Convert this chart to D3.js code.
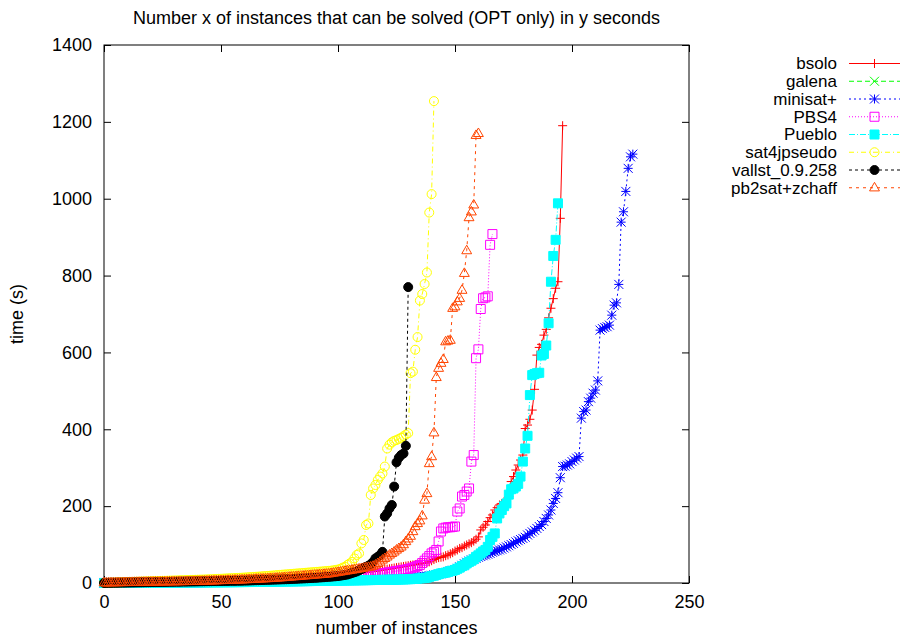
<!DOCTYPE html>
<html lang="en">
<head>
<meta charset="UTF-8">
<title>Number x of instances that can be solved (OPT only) in y seconds</title>
<script src="https://d3js.org/d3.v7.min.js"></script>
<style>
html, body {
  margin: 0;
  padding: 0;
  background-color: white;
}
body {
  font-family: 'Liberation Sans', Arial, sans-serif;
}
#chart svg {
  display: block;
}
.axis text, .legend text, .title, .axis-label {
  font-family: 'Liberation Sans', Arial, sans-serif;
  font-size: 18px;
  fill: #000;
}
.legend text {
  font-size: 17px;
}
</style>
</head>
<body>

<div id="chart"></div>

<script>

// --------------------------------------
// Data: solve time (s) of the i-th instance, x = i
// --------------------------------------

const seriesNames = ["bsolo", "galena", "minisat+", "PBS4", "Pueblo", "sat4jpseudo", "vallst_0.9.258", "pb2sat+zchaff"];

const bsoloTimes = [
  0.3,0.4,0.5,0.6,0.7,0.8,0.9,1.0,1.1,1.2,1.3,1.4,1.5,1.6,1.7,1.8,1.9,2.0,2.1,2.2,
  2.3,2.4,2.5,2.6,2.7,2.8,2.9,3.0,3.1,3.2,3.3,3.4,3.5,3.6,3.7,3.8,3.9,4.0,4.1,4.2,
  4.3,4.4,4.5,4.6,4.7,4.8,4.9,5.0,5.1,5.2,5.3,5.4,5.5,5.6,5.7,5.8,5.9,6.0,6.1,6.2,
  6.4,6.6,6.8,7.0,7.2,7.4,7.6,7.8,8.0,8.2,8.4,8.6,8.8,9.0,9.2,9.4,9.6,9.8,10,10.3,
  10.6,10.9,11.2,11.5,11.8,12.1,12.4,12.7,13,13.3,13.6,14,14.4,14.8,15.2,15.6,16,16.5,17,17.5,
  18,18.5,19,19.5,20,21,22,23,24,25,26,27,28,29,29.5,30,31,32,33,34,
  35,36,37,38,39,40,41,42,43,44,45,46,47,48,49,50,51,52,53,55,
  58,61,64,66,67,68,71,73,76,79,83,86,90,92,96,99,102,105,109,114,
  120,138,145,151,160,170,177,190,196,203,207,212,216,225,264,277,294,307,320,333,
  402,411,426,450,504,593,613,621,645,660,690,715,740,767,784,949,1190
];

const galenaTimes = [0.3, 0.5, 0.8, 1.1, 1.5, 2.0];

const minisatTimes = [
  0.1,0.1,0.2,0.2,0.3,0.3,0.4,0.4,0.5,0.5,0.6,0.6,0.7,0.7,0.8,0.8,0.9,0.9,1.0,1.0,
  1.1,1.1,1.2,1.2,1.3,1.3,1.4,1.4,1.5,1.5,1.6,1.6,1.7,1.7,1.8,1.8,1.9,1.9,2.0,2.0,
  2.1,2.1,2.2,2.2,2.3,2.3,2.4,2.4,2.5,2.5,2.6,2.6,2.7,2.7,2.8,2.8,2.9,2.9,3.0,3.0,
  3.1,3.2,3.3,3.4,3.5,3.6,3.7,3.8,3.9,4.0,4.1,4.2,4.3,4.4,4.5,4.6,4.7,4.8,4.9,5.0,
  5.1,5.2,5.3,5.4,5.5,5.6,5.7,5.8,5.9,6.0,6.1,6.2,6.3,6.4,6.5,6.6,6.7,6.8,6.9,7.0,
  7.1,7.2,7.3,7.4,7.5,7.6,7.7,7.8,7.9,8.0,8.2,8.4,8.6,8.8,9.0,9.2,9.4,9.6,9.8,10,
  10.3,10.6,10.9,11.2,11.5,11.8,12.1,12.4,12.7,13,13.5,14,14.5,15,15.5,16,16.5,17,18,19,
  20,21,22,23,24,26,27,29,31,33,35,38,42,46,50,54,57,60,62,64,
  67,69,71,73,75,77,80,82,84,86,88,91,94,97,100,103,107,110,113,116,
  119,125,129,133,137,142,147,152,160,168,177,190,207,220,235,274,303,304,307,310,316,320,325,329,
  429,446,450,472,481,494,502,526,658,662,665,667,671,697,723,729,777,939,966,1019,1079,1109,1116
];

const pbs4Times = [
  0.1,0.1,0.2,0.2,0.3,0.3,0.4,0.4,0.5,0.5,0.6,0.6,0.7,0.7,0.8,0.8,0.9,0.9,1.0,1.0,
  1.1,1.1,1.2,1.2,1.3,1.3,1.4,1.4,1.5,1.5,1.6,1.6,1.7,1.7,1.8,1.8,1.9,1.9,2.0,2.0,
  2.1,2.2,2.3,2.4,2.5,2.6,2.7,2.8,2.9,3.0,3.1,3.2,3.3,3.4,3.5,3.6,3.7,3.8,3.9,4.0,
  4.1,4.2,4.3,4.4,4.5,4.6,4.7,4.8,4.9,5.0,5.2,5.4,5.6,5.8,6.0,6.2,6.4,6.6,6.8,7.0,
  7.2,7.4,7.6,7.8,8.0,8.2,8.4,8.6,8.8,9.0,9.3,9.6,9.9,10.2,10.5,10.8,11.1,11.4,11.7,12,
  12.4,12.8,13.2,13.6,14,14.5,15,15.5,16,16.5,17,17.5,18,19,20,21,22,23,24,25,
  26,27,28,29,30,31,32,33,34,35,36,38,40,42,44,47,
  52,58,64,70,77,81,86,108,134,142,144,145,145,146,147,186,194,225,229,238,
  246,316,333,585,608,713,741,743,746,880,908
];

const puebloTimes = [
  0.1,0.1,0.1,0.2,0.2,0.2,0.3,0.3,0.3,0.4,0.4,0.4,0.5,0.5,0.5,0.6,0.6,0.6,0.7,0.7,
  0.7,0.8,0.8,0.8,0.9,0.9,0.9,1.0,1.0,1.0,1.1,1.1,1.1,1.2,1.2,1.2,1.3,1.3,1.3,1.4,
  1.4,1.5,1.5,1.6,1.6,1.7,1.7,1.8,1.8,1.9,1.9,2.0,2.0,2.1,2.1,2.2,2.2,2.3,2.3,2.4,
  2.4,2.5,2.5,2.6,2.6,2.7,2.8,2.9,3.0,3.1,3.2,3.3,3.4,3.5,3.6,3.7,3.8,3.9,4.0,4.1,
  4.2,4.3,4.4,4.5,4.6,4.7,4.8,4.9,5.0,5.1,5.2,5.3,5.4,5.5,5.6,5.7,5.8,5.9,6.0,6.1,
  6.2,6.3,6.4,6.5,6.6,6.7,6.8,6.9,7.0,7.1,7.2,7.3,7.4,7.5,7.6,7.7,7.8,7.9,8.0,8.1,
  8.2,8.3,8.4,8.5,8.6,8.8,9.0,9.2,9.4,9.6,9.8,10,10.5,11,11.5,12,12.5,13,14,16,
  18,19,21,23,25,26,27,29,31,32,34,37,40,44,46,51,55,58,62,68,
  72,77,82,86,94,112,120,129,168,181,190,200,207,230,244,246,251,258,277,316,
  350,383,489,541,544,546,547,592,596,618,676,784,851,893,988
];

const sat4jTimes = [
  0.5,0.7,0.9,1.1,1.3,1.5,1.7,1.9,2.1,2.3,2.5,2.7,2.9,3.1,3.3,3.5,3.7,3.9,4.1,4.3,
  4.5,4.7,4.9,5.1,5.3,5.5,5.7,5.9,6.1,6.3,6.5,6.7,6.9,7.1,7.3,7.5,7.7,7.9,8.1,8.3,
  8.5,8.7,8.9,9.1,9.3,9.6,9.9,10.2,10.5,10.8,11.1,11.4,11.7,12,12.3,12.6,12.9,13.2,13.5,13.8,
  14.2,14.6,15,15.4,15.8,16.2,16.6,17,17.5,18,18.5,19,19.5,20,20.5,21,21.5,22,22.5,23,
  23.5,24,24.5,25,25.5,26,26.5,27,27.5,28,28.5,29,29.5,30,30.5,31,31.5,32,33,34,
  35,37,40,42,47,51,55,64,73,77,103,112,151,155,229,246,255,268,277,285,
  303,350,360,366,370,372,375,378,382,386,390,546,550,607,640,735,752,778,808,964,
  1012,1254
];

const vallstTimes = [
  0.2,0.3,0.4,0.5,0.6,0.7,0.8,0.9,1.0,1.1,1.2,1.3,1.4,1.5,1.6,1.7,1.8,1.9,2.0,2.1,
  2.2,2.3,2.4,2.5,2.6,2.7,2.8,2.9,3.0,3.1,3.2,3.3,3.4,3.5,3.6,3.7,3.8,3.9,4.0,4.1,
  4.2,4.3,4.4,4.5,4.6,4.7,4.8,4.9,5.0,5.1,5.2,5.3,5.4,5.5,5.6,5.7,5.8,5.9,6.0,6.1,
  6.2,6.4,6.6,6.8,7.0,7.2,7.4,7.6,7.8,8.0,8.2,8.4,8.6,8.8,9.0,9.2,9.4,9.6,9.8,10,
  10.3,10.6,10.9,11.2,11.5,11.8,12.1,12.4,12.7,13,13.4,13.8,14.2,14.6,15,15.5,16,16.5,17,17.5,
  18,19,20,21,22,24,26,28,30,33,36,39,42,
  45,49,55,64,68,73,81,173,181,194,203,251,314,326,333,337,357,770
];

const pb2satTimes = [
  0.5,0.6,0.8,0.9,1.0,1.1,1.2,1.3,1.4,1.5,1.6,1.7,1.8,1.9,2.0,2.1,2.2,2.3,2.4,2.5,
  2.6,2.7,2.8,2.9,3.0,3.1,3.2,3.3,3.4,3.5,3.6,3.7,3.8,3.9,4.0,4.1,4.2,4.3,4.4,4.5,
  4.6,4.8,5.0,5.2,5.4,5.6,5.8,6.0,6.2,6.4,6.6,6.8,7.0,7.2,7.4,7.6,7.8,8.0,8.2,8.4,
  8.7,9.0,9.3,9.6,9.9,10.2,10.5,10.8,11.1,11.4,11.7,12.0,12.4,12.8,13.2,13.6,14,14.5,15,15.5,
  16,16.5,17,17.5,18,18.5,19,19.5,20,20.5,21,21.5,22,22.5,23,23.5,24,25,26,27,
  28,29,30,31,32,33,34,35,36,37,
  38,39,40,41,42,44,47,51,55,60,64,68,73,77,81,86,90,94,100,108,
  115,122,134,147,155,162,175,216,233,311,329,391,535,559,572,582,628,630,632,715,
  719,732,741,762,806,865,951,966,984,1165,1170
];

const xTicks = [0, 50, 100, 150, 200, 250];
const yTicks = [0, 200, 400, 600, 800, 1000, 1200, 1400];

const seriesTimes = [bsoloTimes, galenaTimes, minisatTimes, pbs4Times, puebloTimes, sat4jTimes, vallstTimes, pb2satTimes];

// --------------------------------------
// Styles (gnuplot look)
// --------------------------------------

const colors  = ["#ff0000", "#00ff00", "#0000ff", "#ff00ff", "#00ffff", "#ffff00", "#000000", "#ff4500"];
const dashes  = ["none", "5,3", "2,3", "1,2", "6,2,1,2", "5,3,1,3", "3,3", "3,4"];
const symbols = ["plus", "cross", "star", "square", "fsquare", "circle", "fcircle", "triangle"];

// --------------------------------------
// Size and scales
// --------------------------------------

const totalWidth = 902;
const totalHeight = 640;
const plot = {left: 104, right: 689, top: 45, bottom: 583};

const svg = d3.select("#chart")
  .append("svg")
  .attr("width", totalWidth)
  .attr("height", totalHeight);

const x = d3.scaleLinear().domain([0, 250]).range([plot.left, plot.right]);
const y = d3.scaleLinear().domain([0, 1400]).range([plot.bottom, plot.top]);

// point symbol as svg path
function symbolPath(type, cx, cy) {
  const s = 4.5;
  switch (type) {
    case "plus":
      return `M${cx - s},${cy}H${cx + s}M${cx},${cy - s}V${cy + s}`;
    case "cross":
      return `M${cx - s},${cy - s}L${cx + s},${cy + s}M${cx - s},${cy + s}L${cx + s},${cy - s}`;
    case "star":
      return `M${cx - s},${cy}H${cx + s}M${cx},${cy - s}V${cy + s}` +
             `M${cx - s},${cy - s}L${cx + s},${cy + s}M${cx - s},${cy + s}L${cx + s},${cy - s}`;
    case "square":
    case "fsquare":
      return `M${cx - s},${cy - s}H${cx + s}V${cy + s}H${cx - s}Z`;
    case "circle":
    case "fcircle":
      return `M${cx + s},${cy}A${s},${s} 0 1,1 ${cx - s},${cy}A${s},${s} 0 1,1 ${cx + s},${cy}Z`;
    case "triangle":
      return `M${cx},${cy - s * 1.2}L${cx + s * 1.1},${cy + s * 0.7}L${cx - s * 1.1},${cy + s * 0.7}Z`;
  }
}

function isFilled(type) {
  return type === "fsquare" || type === "fcircle";
}

// --------------------------------------
// Axes and border
// --------------------------------------

const xAxis = svg.append("g")
  .attr("class", "axis")
  .attr("transform", `translate(0,${plot.bottom})`)
  .call(d3.axisBottom(x).tickValues(xTicks).tickSize(-7).tickPadding(12).tickFormat(d3.format("d")));

const xAxisTop = svg.append("g")
  .attr("transform", `translate(0,${plot.top})`)
  .call(d3.axisTop(x).tickValues(xTicks).tickSize(-7).tickFormat(""));

const yAxis = svg.append("g")
  .attr("class", "axis")
  .attr("transform", `translate(${plot.left},0)`)
  .call(d3.axisLeft(y).tickValues(yTicks).tickSize(-7).tickPadding(12).tickFormat(d3.format("d")));

const yAxisRight = svg.append("g")
  .attr("transform", `translate(${plot.right},0)`)
  .call(d3.axisRight(y).tickValues(yTicks).tickSize(-7).tickFormat(""));

svg.selectAll(".domain").remove();
svg.selectAll(".tick line").attr("stroke", "#000");
svg.selectAll(".axis text").attr("font-size", null).attr("font-family", null);

svg.append("rect")
  .attr("x", plot.left)
  .attr("y", plot.top)
  .attr("width", plot.right - plot.left)
  .attr("height", plot.bottom - plot.top)
  .attr("fill", "none")
  .attr("stroke", "#000")
  .attr("stroke-width", 1);

// --------------------------------------
// Titles
// --------------------------------------

svg.append("text")
  .attr("class", "title")
  .attr("x", (plot.left + plot.right) / 2)
  .attr("y", 24)
  .attr("text-anchor", "middle")
  .text("Number x of instances that can be solved (OPT only) in y seconds");

svg.append("text")
  .attr("class", "axis-label")
  .attr("x", (plot.left + plot.right) / 2)
  .attr("y", 634)
  .attr("text-anchor", "middle")
  .text("number of instances");

svg.append("text")
  .attr("class", "axis-label")
  .attr("transform", `translate(23,${(plot.top + plot.bottom) / 2}) rotate(-90)`)
  .attr("text-anchor", "middle")
  .text("time (s)");

// --------------------------------------
// Series
// --------------------------------------

const line = d3.line()
  .x((d, i) => x(i))
  .y(d => y(d));

seriesTimes.forEach((times, k) => {
  const g = svg.append("g").attr("class", "series");

  g.append("path")
    .datum(times)
    .attr("d", line)
    .attr("fill", "none")
    .attr("stroke", colors[k])
    .attr("stroke-width", 1)
    .attr("stroke-dasharray", dashes[k]);

  g.selectAll("path.pt")
    .data(times)
    .join("path")
    .attr("class", "pt")
    .attr("d", (d, i) => symbolPath(symbols[k], x(i), y(d)))
    .attr("fill", isFilled(symbols[k]) ? colors[k] : "none")
    .attr("stroke", colors[k])
    .attr("stroke-width", 1);
});

// --------------------------------------
// Legend
// --------------------------------------

const legend = svg.append("g").attr("class", "legend");

seriesNames.forEach((name, k) => {
  const ly = 63.5 + k * 17.75;

  legend.append("text")
    .attr("x", 837)
    .attr("y", ly)
    .attr("dy", "0.35em")
    .attr("text-anchor", "end")
    .text(name);

  legend.append("line")
    .attr("x1", 849)
    .attr("x2", 900)
    .attr("y1", ly)
    .attr("y2", ly)
    .attr("stroke", colors[k])
    .attr("stroke-dasharray", dashes[k]);

  legend.append("path")
    .attr("d", symbolPath(symbols[k], 874.5, ly))
    .attr("fill", isFilled(symbols[k]) ? colors[k] : "none")
    .attr("stroke", colors[k]);
});

</script>
</body>
</html>
